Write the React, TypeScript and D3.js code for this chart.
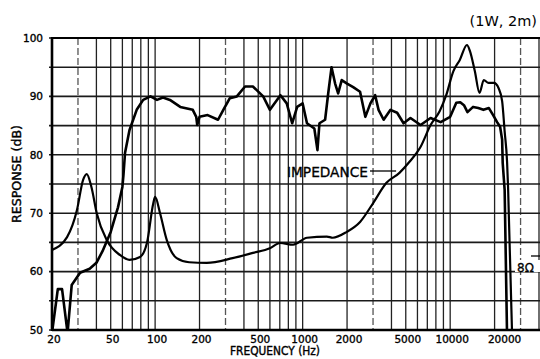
import React, { useEffect, useRef } from "react";
import * as d3 from "d3";

// tick labels
const xTickLabels = [20, 50, 100, 200, 500, 1000, 2000, 5000, 10000, 20000];
const yTickLabels = [50, 60, 70, 80, 90, 100];
const yGridLevels = [50, 55, 60, 65, 70, 75, 80, 85, 90, 95, 100];

// response curve (dB)
const responseFreq = [
  20, 21.9, 23.4, 25.5, 27.2, 31, 36, 40, 44, 50, 56, 60, 61, 62.5, 67, 75, 83, 93, 103, 113,
  126, 148, 180, 190, 193, 200, 227, 267, 290, 321, 358, 407, 460, 540, 600, 707, 780, 849, 918,
  1000, 1070, 1200, 1260, 1300, 1420, 1490, 1570, 1660, 1740, 1840, 2000, 2200, 2450, 2660, 2880,
  3100, 3270, 3540, 3940, 4370, 4830, 5380, 6300, 7360, 8620, 10000, 11000, 11700, 12400, 13100,
  14300, 15500, 16800, 18300, 19550, 20800, 21800, 22500, 22700, 23400, 24300,
];
const responseDb = [
  49.5, 57, 57, 49.5, 57.7, 59.8, 60.5, 61.5, 63.5, 66.8, 71, 74.5, 76.5, 80.3, 84.2, 87.7, 89.4, 90, 89.4, 89.8,
  89.4, 88.2, 87.7, 86.5, 85.1, 86.5, 86.8, 86.0, 87.7, 89.7, 90, 91.7, 91.7, 90, 87.7, 90.2, 88.8, 85.4, 88.2,
  88.8, 85.4, 84.5, 80.8, 85.4, 86, 90.5, 95, 92.2, 90.5, 92.8, 92.2, 91.6, 90.8, 86.5, 88.8,
  90.2, 87.7, 86, 87.7, 87.2, 85.4, 86.3, 85.1, 86.3, 85.6, 86.5, 88.9, 89, 88.5, 87.3,
  88.2, 88, 87.7, 88, 86.8, 85.6, 84.8, 82.6, 78.6, 74, 49,
];

// impedance curve (plotted on the same dB grid)
const impedanceFreq = [
  20, 25.3, 29.5, 32.5, 34.4, 37, 40.2, 47, 58, 67, 79, 88, 97.2, 100, 108, 120, 140, 170, 224,
  335, 460, 600, 703, 861, 1070, 1460, 1600, 1990, 2450, 3000, 3700, 4530, 5300, 6250, 7370,
  8500, 9400, 10500, 11600, 13000, 13600, 14700, 15800, 16900, 18200, 19800, 21300, 22500,
  23400, 24300, 24700, 26300,
];
const impedanceDb = [
  63.7, 65.9, 70.5, 75.7, 76.7, 74.5, 70, 65.4, 62.8, 62, 62.5, 64.9, 71.7, 72.8, 70, 65.4, 62.3, 61.6, 61.5,
  62.3, 63.2, 64, 64.9, 64.6, 65.8, 66, 65.8, 66.8, 68.5, 71.7, 75.2, 76.9, 78.8, 81.2, 85.1,
  87.5, 90.2, 94.3, 96.2, 98.8, 97.8, 94.3, 90.6, 92.8, 92.3, 92.3, 91.4, 89.2,
  84, 78.8, 74.2, 49,
];

const App: React.FC = () => {
  const chartRef = useRef<HTMLDivElement>(null);

  useEffect(() => {
    const container = chartRef.current;
    if (!container) return;

    const width = 540;
    const height = 359;
    const plot = { left: 52, right: 539, top: 38, bottom: 330 };

    const root = d3.select(container);
    root.selectAll("*").remove();

    const svg = root
      .append("svg")
      .attr("width", width)
      .attr("height", height)
      .style("display", "block")
      .style("background", "#fff")
      .style("font-family", "'DejaVu Sans', sans-serif");

    const x = d3.scaleLog().domain([20, 40000]).range([plot.left, plot.right]);
    const y = d3.scaleLinear().domain([50, 100]).range([plot.bottom, plot.top]);

    svg
      .append("clipPath")
      .attr("id", "plot-clip")
      .append("rect")
      .attr("x", plot.left)
      .attr("y", plot.top)
      .attr("width", width - plot.left)
      .attr("height", plot.bottom - plot.top + 1);

    // vertical grid (1..9 x 10^n)
    const gridFreqs = x.ticks().filter((f) => f >= 20 && f <= 40000);
    svg
      .append("g")
      .selectAll("line")
      .data(gridFreqs)
      .enter()
      .append("line")
      .attr("x1", (d) => x(d))
      .attr("x2", (d) => x(d))
      .attr("y1", plot.top)
      .attr("y2", plot.bottom)
      .attr("stroke", (d) => (String(d)[0] === "3" ? "#555" : "#222"))
      .attr("stroke-width", 1.3)
      .attr("stroke-dasharray", (d) => (String(d)[0] === "3" ? "7,3" : null));

    // horizontal grid
    svg
      .append("g")
      .selectAll("line")
      .data(yGridLevels)
      .enter()
      .append("line")
      .attr("x1", plot.left - 3)
      .attr("x2", width)
      .attr("y1", (d) => y(d))
      .attr("y2", (d) => y(d))
      .attr("stroke", "#1a1a1a")
      .attr("stroke-width", 1.6);

    // curves
    const curves = svg.append("g").attr("clip-path", "url(#plot-clip)");

    const responseLine = d3
      .line<number>()
      .x((d, i) => x(responseFreq[i]))
      .y((d) => y(d))
      .curve(d3.curveLinear);

    const impedanceLine = d3
      .line<number>()
      .x((d, i) => x(impedanceFreq[i]))
      .y((d) => y(d))
      .curve(d3.curveMonotoneX);

    curves
      .append("path")
      .attr("d", impedanceLine(impedanceDb))
      .attr("fill", "none")
      .attr("stroke", "#000")
      .attr("stroke-width", 2.2)
      .attr("stroke-linejoin", "round");

    curves
      .append("path")
      .attr("d", responseLine(responseDb))
      .attr("fill", "none")
      .attr("stroke", "#000")
      .attr("stroke-width", 2.6)
      .attr("stroke-linejoin", "round");

    // frame
    svg
      .append("line")
      .attr("x1", plot.left)
      .attr("x2", width)
      .attr("y1", plot.top)
      .attr("y2", plot.top)
      .attr("stroke", "#000")
      .attr("stroke-width", 2.2);
    svg
      .append("line")
      .attr("x1", plot.left)
      .attr("x2", width)
      .attr("y1", plot.bottom)
      .attr("y2", plot.bottom)
      .attr("stroke", "#000")
      .attr("stroke-width", 2.6);
    svg
      .append("line")
      .attr("x1", plot.left)
      .attr("x2", plot.left)
      .attr("y1", plot.top - 1)
      .attr("y2", plot.bottom + 1)
      .attr("stroke", "#000")
      .attr("stroke-width", 2.6);

    // y tick labels
    svg
      .append("g")
      .selectAll("text")
      .data(yTickLabels)
      .enter()
      .append("text")
      .attr("x", 43)
      .attr("y", (d) => y(d))
      .attr("dy", "0.36em")
      .attr("text-anchor", "end")
      .style("font-size", "10.5px")
      .attr("stroke", "#000")
      .attr("stroke-width", 0.35)
      .text((d) => d);

    // x tick labels
    svg
      .append("g")
      .selectAll("text")
      .data(xTickLabels)
      .enter()
      .append("text")
      .attr("x", (d) => x(d) + (d === 20000 ? 10 : 2))
      .attr("y", 343)
      .attr("text-anchor", "middle")
      .style("font-size", "10.5px")
      .attr("stroke", "#000")
      .attr("stroke-width", 0.35)
      .text((d) => d);

    // axis titles
    svg
      .append("text")
      .attr("x", 275)
      .attr("y", 355)
      .attr("text-anchor", "middle")
      .attr("textLength", 90)
      .attr("lengthAdjust", "spacingAndGlyphs")
      .style("font-size", "11.5px")
      .attr("stroke", "#000")
      .attr("stroke-width", 0.4)
      .text("FREQUENCY (Hz)");

    svg
      .append("text")
      .attr("transform", "translate(21,174) rotate(-90)")
      .attr("text-anchor", "middle")
      .attr("textLength", 98)
      .attr("lengthAdjust", "spacingAndGlyphs")
      .style("font-size", "12px")
      .attr("stroke", "#000")
      .attr("stroke-width", 0.4)
      .text("RESPONSE (dB)");

    svg
      .append("text")
      .attr("x", 537)
      .attr("y", 26)
      .attr("text-anchor", "end")
      .style("font-size", "14.5px")
      .text("(1W, 2m)");

    // impedance annotation
    svg
      .append("text")
      .attr("x", 287)
      .attr("y", 177)
      .attr("textLength", 81)
      .attr("lengthAdjust", "spacingAndGlyphs")
      .style("font-size", "13.5px")
      .attr("stroke", "#000")
      .attr("stroke-width", 0.3)
      .text("IMPEDANCE");
    svg
      .append("line")
      .attr("x1", 370)
      .attr("x2", x(4300))
      .attr("y1", 171)
      .attr("y2", 171)
      .attr("stroke", "#000")
      .attr("stroke-width", 1.3);

    // 8 ohm marker
    svg
      .append("rect")
      .attr("x", 515)
      .attr("y", 260)
      .attr("width", 25)
      .attr("height", 12)
      .attr("fill", "#fff");
    svg
      .append("text")
      .attr("x", 517)
      .attr("y", 272)
      .style("font-size", "12px")
      .attr("stroke", "#000")
      .attr("stroke-width", 0.3)
      .text("8Ω");
    svg
      .append("line")
      .attr("x1", 531)
      .attr("x2", 540)
      .attr("y1", 256)
      .attr("y2", 256)
      .attr("stroke", "#000")
      .attr("stroke-width", 1.3);
  }, []);

  return <div ref={chartRef} style={{ position: "absolute", left: 0, top: 0 }}></div>;
};

export default App;
